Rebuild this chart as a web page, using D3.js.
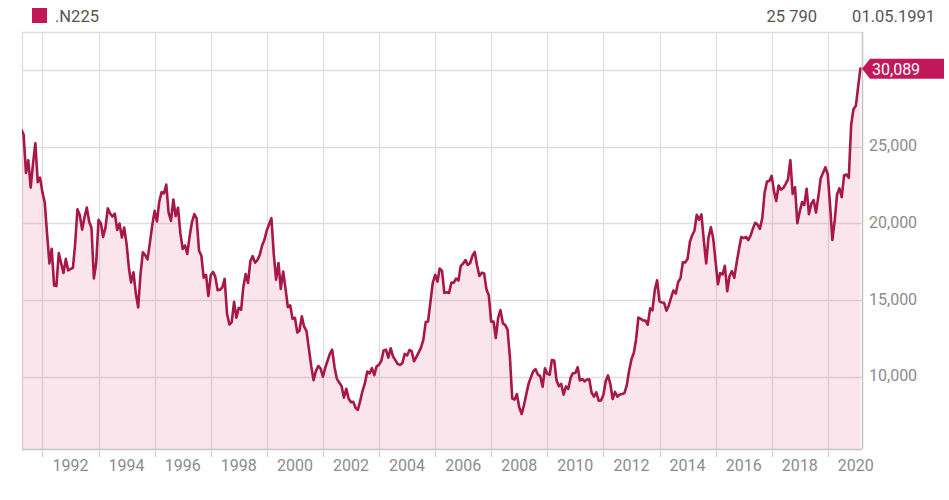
<!DOCTYPE html>
<html><head><meta charset="utf-8">
<script src="https://cdn.jsdelivr.net/npm/d3@7"></script>
<style>
body{margin:0;background:#fff}
svg{display:block;font-family:Roboto,"Noto Sans",sans-serif}
</style>
</head><body>
<svg id="chart" width="949" height="500"></svg>
<script>
// ---- data: Nikkei 225 monthly closes, from April 1991 ----
const seriesName = ".N225";
const headerValue = "25 790";
const headerDate = "01.05.1991";
const lastLabel = "30,089";
const firstMonth = "1991-04";

const closes1991to1995 = [
  26111, 25790, 23291, 24121, 22335, 23916, 25222, 22687, 22984,
  22023, 21339, 19346, 17391, 18348, 15952, 15910, 18061, 17399, 16768, 17684, 16925,
  17024, 17098, 18591, 20919, 20552, 19590, 20380, 21027, 20106, 19703, 16408, 17417,
  20229, 19997, 19112, 19725, 20974, 20644, 20449, 20629, 19564, 19990, 19076, 19723,
  18649, 17053, 16140, 16807, 15437, 14517, 16678, 18117, 17913, 17655, 18744, 19868
];
const closes1996to2000 = [
  20813, 20125, 21407, 22041, 21956, 22531, 20693, 20167, 21556, 20467, 21020, 19361,
  18330, 18557, 18003, 19151, 20069, 20605, 20331, 18229, 17888, 16459, 16636, 15259,
  16628, 16832, 16527, 15641, 15671, 15830, 16379, 14108, 13406, 13564, 14883, 13842,
  14499, 14368, 15837, 16701, 16112, 17530, 17862, 17437, 17605, 17942, 18558, 18934,
  19540, 19960, 20337, 17974, 16332, 17411, 15727, 16861, 15747, 14539, 14649, 13786
];
const closes2001to2005 = [
  13844, 12884, 12999, 13934, 13262, 12969, 11861, 10714, 9775, 10367, 10697, 10543,
  9998, 10588, 11025, 11493, 11764, 10622, 9878, 9619, 9383, 8640, 9216, 8579,
  8340, 8363, 7973, 7831, 8425, 9083, 9563, 10344, 10219, 10560, 10101, 10677,
  10784, 11042, 11715, 11762, 11236, 11859, 11326, 11082, 10824, 10771, 10899, 11489,
  11388, 11741, 11669, 11009, 11277, 11584, 11900, 12414, 13574, 13607, 14872, 16111
];
const closes2006to2010 = [
  16650, 16205, 17060, 16906, 15467, 15505, 15457, 16141, 16128, 16399, 16274, 17226,
  17383, 17604, 17288, 17400, 17876, 18138, 17249, 16569, 16786, 16737, 15681, 15308,
  13592, 13603, 12526, 13850, 14339, 13481, 13377, 13073, 11260, 8577, 8512, 8860,
  7994, 7568, 8110, 8828, 9523, 9958, 10357, 10493, 10133, 10035, 9346, 10546,
  10198, 10126, 11090, 11057, 9769, 9383, 9537, 8824, 9369, 9202, 9937, 10229
];
const closes2011to2015 = [
  10238, 10624, 9755, 9850, 9694, 9816, 9833, 8955, 8700, 8988, 8435, 8455,
  8803, 9723, 10084, 9521, 8543, 9007, 8695, 8840, 8870, 8928, 9446, 10395,
  11139, 11559, 12398, 13861, 13775, 13677, 13668, 13389, 14456, 14328, 15662, 16291,
  14915, 14841, 14828, 14304, 14632, 15162, 15621, 15425, 16174, 16414, 17460, 17451,
  17674, 18798, 19207, 19520, 20563, 20236, 20585, 18890, 17388, 19083, 19747, 19034
];
const closes2016to2021 = [
  17518, 16027, 16759, 16666, 17235, 15576, 16569, 16887, 16450, 17425, 18308, 19114,
  19041, 19119, 18909, 19197, 19651, 20033, 19925, 19646, 20356, 22012, 22725, 22765,
  23098, 22068, 21454, 22468, 22202, 22305, 22554, 22865, 24120, 21920, 22351, 20015,
  20773, 21385, 21206, 22259, 20601, 21276, 21522, 20704, 21756, 22927, 23294, 23657,
  23205, 21143, 18917, 20194, 21878, 22288, 21710, 23140, 23185, 22977, 26434, 27444,
  27663, 28966, 30089
];
const yGridTicks = [10000, 15000, 20000, 25000, 30000];
const yLabelTicks = [10000, 15000, 20000, 25000];
const xTickYears = [1992,1994,1996,1998,2000,2002,2004,2006,2008,2010,2012,2014,2016,2018,2020];

// ---- build ----
const values = [].concat(closes1991to1995, closes1996to2000, closes2001to2005,
                         closes2006to2010, closes2011to2015, closes2016to2021);
const parseMonth = d3.timeParse("%Y-%m");
const start = parseMonth(firstMonth);
const data = values.map((v, i) => ({date: d3.timeMonth.offset(start, i), value: v}));

const svg = d3.select("#chart");
const L = 22, R = 862, T = 32, B = 449;

const x = d3.scaleTime()
  .domain([new Date(1991, 3, 10), new Date(2021, 2, 22)])
  .range([L, R]);
const y = d3.scaleLinear().domain([5287, 32478]).range([B, T]);

const red = "#c2185b";
const lineColor = "#a81749";
const gridColor = "#dedede";

svg.append("defs").append("clipPath").attr("id", "plotclip")
  .append("rect").attr("x", L).attr("y", T).attr("width", R - L).attr("height", B - T);

// gridlines
svg.append("g").selectAll("line.h").data(yGridTicks).join("line")
  .attr("x1", L).attr("x2", R)
  .attr("y1", d => Math.round(y(d)) + 0.5).attr("y2", d => Math.round(y(d)) + 0.5)
  .attr("stroke", gridColor).attr("stroke-width", 1.3);
svg.append("g").selectAll("line.v").data(xTickYears).join("line")
  .attr("x1", d => Math.round(x(new Date(d, 0, 1))) + 0.5)
  .attr("x2", d => Math.round(x(new Date(d, 0, 1))) + 0.5)
  .attr("y1", T).attr("y2", B)
  .attr("stroke", gridColor).attr("stroke-width", 1.3);

// border top/left
svg.append("line").attr("x1", L).attr("x2", R).attr("y1", T + 0.5).attr("y2", T + 0.5)
  .attr("stroke", gridColor).attr("stroke-width", 1.3);
svg.append("line").attr("x1", L + 0.5).attr("x2", L + 0.5).attr("y1", T).attr("y2", B)
  .attr("stroke", gridColor).attr("stroke-width", 1.3);

// area + line
const g = svg.append("g").attr("clip-path", "url(#plotclip)");
g.append("path").datum(data)
  .attr("d", d3.area().x(d => x(d.date)).y0(B).y1(d => y(d.value)))
  .attr("fill", "rgba(230,80,130,0.15)");
g.append("path").datum(data)
  .attr("d", d3.line().x(d => x(d.date)).y(d => y(d.value)))
  .attr("fill", "none").attr("stroke", lineColor).attr("stroke-width", 2.6)
  .attr("stroke-linejoin", "round").attr("stroke-linecap", "round");

// bottom axis
const xAxis = svg.append("g").attr("transform", `translate(0,${B})`);
xAxis.append("line").attr("x1", L).attr("x2", R).attr("y1", 0.5).attr("y2", 0.5)
  .attr("stroke", "#c4c4c4").attr("stroke-width", 1.5);
xAxis.selectAll("line.tick").data(xTickYears).join("line")
  .attr("x1", d => Math.round(x(new Date(d, 0, 1))) + 0.5)
  .attr("x2", d => Math.round(x(new Date(d, 0, 1))) + 0.5)
  .attr("y1", 2).attr("y2", 8).attr("stroke", "#d0d0d0").attr("stroke-width", 1.3);
xAxis.selectAll("text").data(xTickYears).join("text")
  .attr("x", d => x(new Date(d + 1, 0, 1)))
  .attr("y", 22).attr("text-anchor", "middle")
  .attr("font-size", 16).attr("fill", "#8c8c8c").text(d => d);

// right axis
const yAxis = svg.append("g").attr("transform", `translate(${R},0)`);
yAxis.append("line").attr("x1", 0.5).attr("x2", 0.5).attr("y1", T).attr("y2", B)
  .attr("stroke", "#c4c4c4").attr("stroke-width", 1.5);
const fmt = d3.format(",");
yAxis.selectAll("text").data(yLabelTicks).join("text")
  .attr("x", 7).attr("y", d => y(d) + 4.5)
  .attr("font-size", 16).attr("fill", "#8c8c8c").text(d => fmt(d));

// last value callout
const last = data[data.length - 1];
const ly = y(last.value);
const tipX = R;
svg.append("path")
  .attr("d", `M${tipX},${ly} L${tipX + 8},${ly - 10} L944,${ly - 10} L944,${ly + 10} L${tipX + 8},${ly + 10} Z`)
  .attr("fill", red);
svg.append("text").attr("x", 872).attr("y", ly + 6)
  .attr("font-size", 16).attr("fill", "#fff").text(lastLabel);

// header
svg.append("rect").attr("x", 32).attr("y", 8).attr("width", 15).attr("height", 15).attr("fill", red);
svg.append("text").attr("x", 55).attr("y", 22).attr("font-size", 16.5).attr("fill", "#555").text(seriesName);
svg.append("text").attr("x", 817).attr("y", 22).attr("text-anchor", "end")
  .attr("font-size", 16.5).attr("fill", "#555").text(headerValue);
svg.append("text").attr("x", 935).attr("y", 22).attr("text-anchor", "end")
  .attr("font-size", 16.5).attr("fill", "#555").text(headerDate);
</script>
</body></html>
